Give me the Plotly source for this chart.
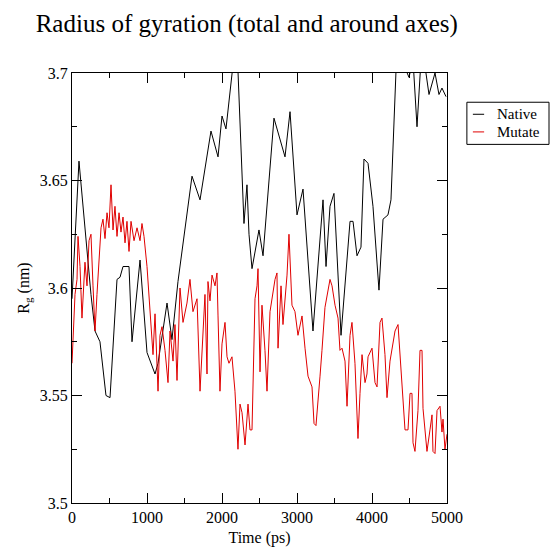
import plotly.graph_objects as go

# ---------------- data ----------------
native_time = [0, 93, 253, 307, 373, 453, 507, 600, 640, 680, 760, 800, 907, 1000, 1107, 1147,
               1267, 1333, 1413, 1600, 1707, 1853, 1947, 2000, 2053, 2133, 2160, 2200, 2213,
               2293, 2333, 2360, 2400, 2493, 2547, 2693, 2840, 2907, 3000, 3080, 3213, 3347,
               3387, 3440, 3493, 3587, 3707, 3747, 3800, 3853, 3893, 3947, 4013, 4093, 4147,
               4213, 4253, 4320, 4373, 4493, 4547, 4600, 4653, 4707, 4760, 4840, 4893, 4933, 4987]
native_rg = [3.595, 3.659, 3.597, 3.580, 3.575, 3.550, 3.549, 3.604, 3.605, 3.610, 3.610, 3.575,
             3.613, 3.570, 3.560, 3.565, 3.593, 3.576, 3.603, 3.652, 3.641, 3.673, 3.661, 3.680,
             3.674, 3.701, 3.708, 3.706, 3.701, 3.630, 3.648, 3.625, 3.609, 3.627, 3.615, 3.679,
             3.661, 3.682, 3.634, 3.646, 3.580, 3.641, 3.610, 3.638, 3.644, 3.578, 3.631, 3.631,
             3.615, 3.619, 3.660, 3.658, 3.638, 3.599, 3.632, 3.634, 3.641, 3.701, 3.708, 3.698,
             3.706, 3.675, 3.706, 3.703, 3.690, 3.700, 3.690, 3.693, 3.689]

mutate_time = [0, 40, 67, 80, 107, 133, 173, 200, 227, 253, 280, 307, 333, 360, 387, 413, 440,
               467, 493, 520, 547, 573, 600, 627, 653, 680, 707, 733, 760, 787, 827, 867, 907,
               933, 960, 1000, 1040, 1080, 1107, 1147, 1173, 1200, 1240, 1280, 1307, 1347, 1373,
               1400, 1440, 1480, 1533, 1573, 1613, 1640, 1667, 1707, 1747, 1773, 1800, 1813, 1840,
               1867, 1907, 1933, 1947, 1973, 2000, 2040, 2067, 2093, 2133, 2173, 2213, 2240, 2267,
               2307, 2347, 2373, 2400, 2413, 2440, 2467, 2480, 2507, 2533, 2573, 2600, 2640, 2680,
               2707, 2733, 2747, 2787, 2813, 2867, 2893, 2933, 2973, 3013, 3067, 3107, 3147, 3200,
               3227, 3253, 3280, 3307, 3333, 3373, 3440, 3467, 3507, 3547, 3573, 3600, 3640, 3667,
               3707, 3733, 3773, 3813, 3840, 3867, 3907, 3933, 3947, 4000, 4040, 4067, 4107, 4133,
               4173, 4200, 4240, 4280, 4307, 4347, 4373, 4413, 4440, 4480, 4507, 4533, 4547, 4573,
               4613, 4640, 4667, 4680, 4707, 4733, 4773, 4800, 4813, 4840, 4867, 4907, 4933, 4947,
               4973, 5000]
mutate_rg = [3.565, 3.597, 3.604, 3.624, 3.610, 3.586, 3.612, 3.601, 3.622, 3.625, 3.601, 3.580,
             3.597, 3.615, 3.628, 3.632, 3.623, 3.635, 3.628, 3.648, 3.627, 3.638, 3.624, 3.635,
             3.626, 3.633, 3.621, 3.631, 3.617, 3.631, 3.622, 3.628, 3.622, 3.630, 3.624, 3.610,
             3.587, 3.569, 3.588, 3.552, 3.578, 3.582, 3.571, 3.556, 3.580, 3.566, 3.583, 3.557,
             3.600, 3.584, 3.593, 3.604, 3.589, 3.592, 3.595, 3.552, 3.583, 3.597, 3.560, 3.603,
             3.594, 3.606, 3.601, 3.607, 3.587, 3.552, 3.574, 3.584, 3.568, 3.565, 3.568, 3.552,
             3.525, 3.546, 3.542, 3.527, 3.546, 3.534, 3.534, 3.557, 3.595, 3.601, 3.609, 3.561,
             3.592, 3.571, 3.552, 3.589, 3.598, 3.604, 3.607, 3.572, 3.601, 3.583, 3.606, 3.625,
             3.592, 3.589, 3.578, 3.587, 3.572, 3.559, 3.554, 3.537, 3.536, 3.550, 3.559, 3.571,
             3.591, 3.604, 3.601, 3.592, 3.586, 3.571, 3.572, 3.566, 3.545, 3.578, 3.584, 3.565,
             3.530, 3.551, 3.569, 3.556, 3.560, 3.568, 3.572, 3.556, 3.554, 3.584, 3.586, 3.569,
             3.549, 3.566, 3.574, 3.580, 3.583, 3.569, 3.552, 3.534, 3.534, 3.551, 3.551, 3.528,
             3.524, 3.543, 3.571, 3.571, 3.544, 3.533, 3.524, 3.534, 3.541, 3.524, 3.523, 3.543,
             3.545, 3.533, 3.539, 3.525, 3.532]

series_names = ["Native", "Mutate"]
series_colors = ["black", "#e00000"]

x_ticks = [0, 1000, 2000, 3000, 4000, 5000]
x_tick_labels = ["0", "1000", "2000", "3000", "4000", "5000"]
y_ticks = [3.5, 3.55, 3.6, 3.65, 3.7]
y_tick_labels = ["3.5", "3.55", "3.6", "3.65", "3.7"]

SERIF = "Liberation Serif"

fig = go.Figure()
fig.add_trace(go.Scatter(x=native_time, y=native_rg, mode="lines", name=series_names[0],
                         line=dict(color=series_colors[0], width=1), showlegend=False))
fig.add_trace(go.Scatter(x=mutate_time, y=mutate_rg, mode="lines", name=series_names[1],
                         line=dict(color=series_colors[1], width=1), showlegend=False))

axis_common = dict(showline=True, linecolor="black", linewidth=1, mirror="ticks",
                   ticks="inside", ticklen=10, tickcolor="black", tickwidth=1,
                   showgrid=False, zeroline=False,
                   tickfont=dict(family=SERIF, size=16, color="black"))

fig.update_xaxes(range=[0, 5000], tickvals=x_ticks, ticktext=x_tick_labels,
                 minor=dict(ticks="inside", ticklen=5, dtick=500, tickcolor="black", showgrid=False),
                 title=dict(text="Time (ps)", font=dict(family=SERIF, size=16, color="black"), standoff=6),
                 **axis_common)
fig.update_yaxes(range=[3.5, 3.7], tickvals=y_ticks, ticktext=y_tick_labels,
                 minor=dict(ticks="inside", ticklen=5, dtick=0.025, tickcolor="black", showgrid=False),
                 title=dict(text="R<sub>g</sub> (nm)", font=dict(family=SERIF, size=16, color="black"), standoff=6),
                 **axis_common)

# ---- custom legend (box, short line samples, labels) in paper coordinates ----
legend_box = dict(x0=1.053, x1=1.272, y0=0.834, y1=0.932)
legend_rows_y = [0.904, 0.863]
shapes = [dict(type="rect", xref="paper", yref="paper", line=dict(color="black", width=1),
               fillcolor="white", **legend_box)]
annotations = []
for name, color, ry in zip(series_names, series_colors, legend_rows_y):
    shapes.append(dict(type="line", xref="paper", yref="paper", x0=1.069, x1=1.099, y0=ry, y1=ry,
                       line=dict(color=color, width=1)))
    annotations.append(dict(text=name, xref="paper", yref="paper", x=1.128, y=ry,
                            xanchor="left", yanchor="middle", showarrow=False,
                            font=dict(family=SERIF, size=15, color="black")))

fig.update_layout(
    width=552, height=555,
    margin=dict(l=72, r=105, t=73, b=43),
    paper_bgcolor="white", plot_bgcolor="white",
    title=dict(text="Radius of gyration (total and around axes)", x=0.447, xanchor="center",
               y=0.958, yanchor="middle", xref="container", yref="container",
               font=dict(family=SERIF, size=25, color="black")),
    shapes=shapes, annotations=annotations,
    showlegend=False,
)

fig.write_html("out.html")
